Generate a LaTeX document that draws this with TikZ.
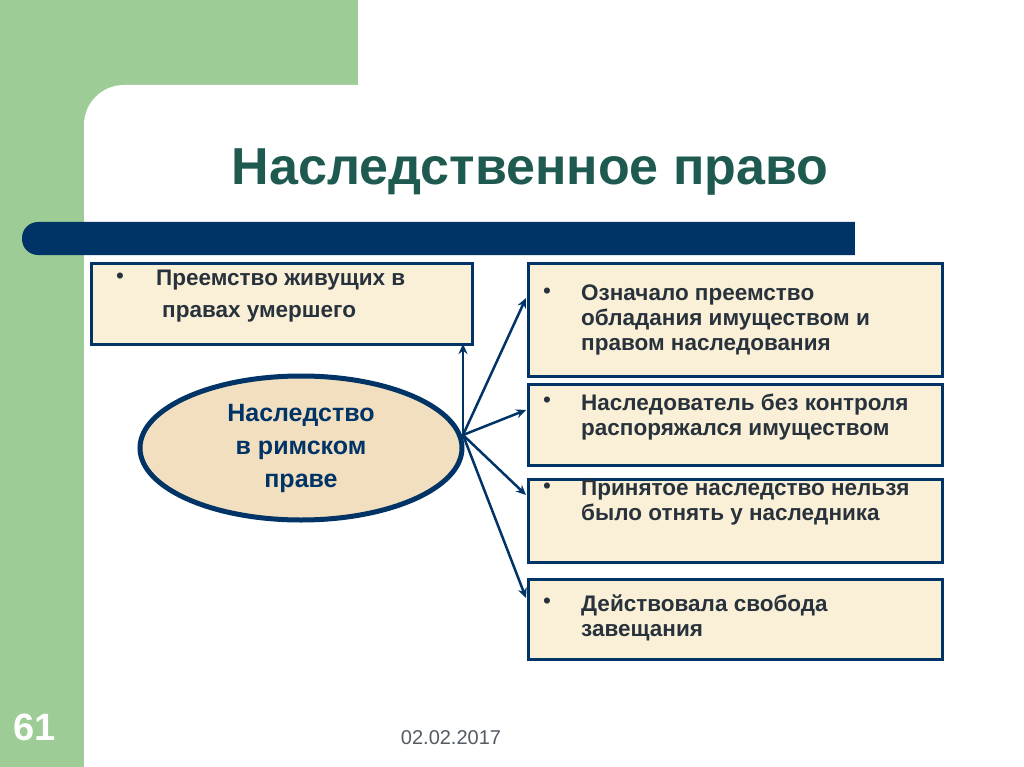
\documentclass[tikz,border=0pt]{standalone}
\usepackage{fontspec}
\setmainfont{Liberation Sans}
\usetikzlibrary{arrows.meta,shapes.geometric}
\definecolor{slidegreen}{RGB}{158,204,150}
\definecolor{navyColor}{RGB}{0,51,102}
\definecolor{titleColor}{RGB}{30,90,80}
\definecolor{boxColor}{RGB}{250,240,215}
\definecolor{textColor}{RGB}{40,50,60}
\tikzset{
  infobox/.style={draw=navyColor,line width=2.5pt,fill=boxColor,anchor=north west,inner sep=0pt},
  infotext/.style={text=textColor,font=\fontsize{22.5}{25}\selectfont\bfseries,align=left,anchor=north west,inner sep=0pt},
  bulletdot/.style={text=textColor,font=\fontsize{22.5}{25}\selectfont,anchor=north west,inner sep=0pt},
  linkarrow/.style={draw=navyColor,line width=2.5pt,-{Stealth[length=10pt,width=9pt]}}
}
\begin{document}
\begin{tikzpicture}[x=1pt,y=-1pt]
\path[use as bounding box,fill=slidegreen] (0,0) rectangle (1024,767);
% white slide area
\fill[white] (358,0) rectangle (1024,85);
\fill[white,rounded corners=40pt] (84,85) rectangle (1070,810);
% title and bar
\node[text=titleColor,font=\fontsize{52}{58}\selectfont\bfseries] (title) at (530,172) {Наследственное право};
\fill[navyColor,rounded corners=16pt] (22,222) rectangle (880,255);
\fill[white] (855,215) rectangle (900,260);
% boxes
\node[infobox,minimum width=381pt,minimum height=81pt] (succ) at (90,262) {};
\node[infobox,minimum width=414pt,minimum height=113pt] (meant) at (527,262) {};
\node[infobox,minimum width=414pt,minimum height=81pt] (heir) at (527,383) {};
\node[infobox,minimum width=414pt,minimum height=83pt] (taken) at (527,478) {};
\node[infobox,minimum width=414pt,minimum height=80pt] (will) at (527,578) {};
\node[bulletdot] at (116,273) {•};
\node[infotext] (succtext) at (156,270) {Преемство живущих в};
\node[infotext] at (162,305) {правах умершего};
\node[bulletdot] at (543,288) {•};
\node[infotext] (meanttext) at (581,285) {Означало преемство\\обладания имуществом и\\правом наследования};
\node[bulletdot] at (543,397) {•};
\node[infotext] (heirtext) at (581,394) {Наследователь без контроля\\распоряжался имуществом};
\node[bulletdot] at (543,483) {•};
\node[infotext] (takentext) at (581,480) {Принятое наследство нельзя\\было отнять у наследника};
\node[bulletdot] at (543,598) {•};
\node[infotext] (willtext) at (581,595) {Действовала свобода\\завещания};
% ellipse
\node[ellipse,draw=navyColor,line width=5pt,fill=boxColor!85!brown,minimum width=322pt,minimum height=144pt,
  text=navyColor,font=\fontsize{25}{33}\selectfont\bfseries,align=center] (inherit) at (301,448)
  {Наследство\\в римском\\праве};
\coordinate (hub) at (463,435);
\draw[linkarrow] (hub) -- (463,344);
\draw[linkarrow] (hub) -- (526,298);
\draw[linkarrow] (hub) -- (526,410);
\draw[linkarrow] (hub) -- (526,495);
\draw[linkarrow] (hub) -- (526,598);
% footer
\node[text=white,font=\fontsize{38}{42}\selectfont\bfseries] (pagenum) at (35,727) {61};
\node[text=textColor!80,font=\fontsize{20}{22}\selectfont] (date) at (451,738) {02.02.2017};
\end{tikzpicture}
\end{document}
